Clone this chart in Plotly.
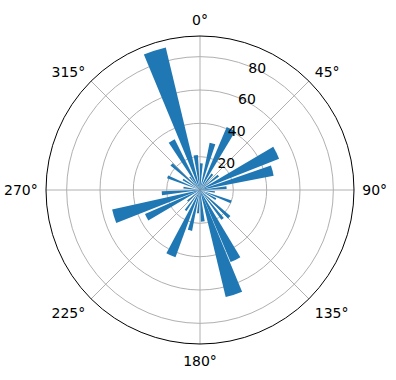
import plotly.graph_objects as go

theta = [3, 15, 27, 38, 52, 64, 75, 85, 98, 111, 120, 133, 142, 153, 162, 175, 185, 194, 204, 215, 228, 243, 253, 265, 278, 292, 302, 312, 322, 330, 342, 353]
radii = [16, 29, 41, 12, 14, 51, 45, 16, 9, 20, 11, 24, 22, 47, 66, 19, 14, 25, 43, 15, 10, 36, 54, 23, 10, 21, 12, 23, 10, 34, 88, 21]
widths = [6, 7, 8, 6, 6, 9, 8, 6, 6, 5, 6, 5, 5, 8, 9, 7, 5, 6, 8, 5, 6, 7, 9, 6, 6, 5, 5, 5, 5, 7, 9, 7]

r_ticks = [20, 40, 60, 80]
theta_ticks = [0, 45, 90, 135, 180, 225, 270, 315]
theta_labels = [f"{t}°" for t in theta_ticks]

fig = go.Figure()
fig.add_trace(go.Barpolar(
    r=radii, theta=theta, width=widths,
    marker=dict(color="#1f77b4", line=dict(width=0)),
    opacity=1,
))

fig.update_layout(
    width=396, height=380,
    margin=dict(l=0, r=0, t=0, b=0),
    paper_bgcolor="white",
    showlegend=False,
    font=dict(family="DejaVu Sans", size=14, color="black"),
    polar=dict(
        domain=dict(x=[46/396, 354/396], y=[36/380, 344/380]),
        bgcolor="white",
        bargap=0,
        angularaxis=dict(
            rotation=90, direction="clockwise",
            tickmode="array", tickvals=theta_ticks, ticktext=theta_labels,
            showgrid=True, gridcolor="#b0b0b0", gridwidth=0.8,
            showline=True, linecolor="black", linewidth=1,
            ticks="outside", ticklen=5, tickcolor="rgba(0,0,0,0)",
            tickfont=dict(size=14),
        ),
        radialaxis=dict(
            range=[0, 92.4], angle=72,
            tickmode="array", tickvals=r_ticks,
            showgrid=True, gridcolor="#b0b0b0", gridwidth=0.8,
            showline=False, ticks="",
            tickfont=dict(size=14), tickangle=72,
        ),
    ),
)

fig.write_html("out.html")
